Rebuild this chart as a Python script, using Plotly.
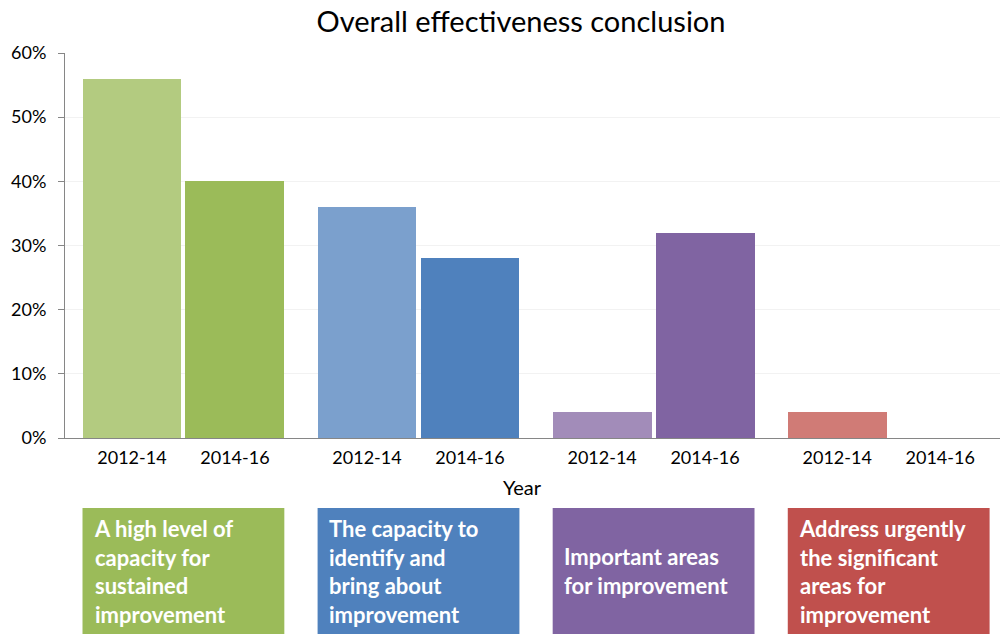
import plotly.graph_objects as go

# ---- data ----
years = ["2012-14", "2014-16"]
group_labels = [
    "A high level of<br>capacity for<br>sustained<br>improvement",
    "The capacity to<br>identify and<br>bring about<br>improvement",
    "Important areas<br>for improvement",
    "Address urgently<br>the significant<br>areas for<br>improvement",
]
values_2012_14 = [56, 36, 4, 4]
values_2014_16 = [40, 28, 32, 0]

# ---- styles ----
light_colors = ["#b3cb80", "#7ba0cd", "#a28cb9", "#d07b76"]
dark_colors = ["#9bbb59", "#4f81bd", "#8064a2", "#c0504d"]
box_colors = ["#9bbb59", "#4f81bd", "#8064a2", "#c0504d"]
FONT = "Lato"
GROUP_PITCH = 2.283
BAR_W = 0.96

n = len(group_labels)
series = [values_2012_14, values_2014_16]
series_colors = [light_colors, dark_colors]

fig = go.Figure()
tickvals, ticktext = [], []
for j, (yr, vals, cols) in enumerate(zip(years, series, series_colors)):
    xs = [g * GROUP_PITCH + j for g in range(n)]
    tickvals += xs
    ticktext += [yr] * n
    fig.add_trace(go.Bar(x=xs, y=vals, width=BAR_W, name=yr,
                         marker=dict(color=cols, line=dict(width=0)),
                         showlegend=False))

shapes, annotations = [], []
for g in range(n):
    x0 = g * GROUP_PITCH - BAR_W / 2
    x1 = g * GROUP_PITCH + 1 + BAR_W / 2
    shapes.append(dict(type="rect", xref="x", yref="paper", x0=x0, x1=x1,
                       y0=-0.509, y1=-0.182, fillcolor=box_colors[g],
                       line=dict(width=0), layer="above"))
    annotations.append(dict(xref="x", yref="paper", x=x0, y=-0.3455,
                            xanchor="left", yanchor="middle", xshift=9,
                            text="<b>" + group_labels[g] + "</b>", align="left",
                            showarrow=False,
                            font=dict(family=FONT, size=22, color="white")))

annotations.append(dict(xref="paper", yref="paper", x=0.489, y=-0.128,
                        xanchor="center", yanchor="middle", text="Year",
                        showarrow=False, font=dict(family=FONT, size=20, color="black")))

fig.update_layout(
    width=1000, height=635,
    margin=dict(l=65, r=0, t=53, b=197),
    paper_bgcolor="white", plot_bgcolor="white",
    title=dict(text="Overall effectiveness conclusion", x=0.521, xanchor="center",
               y=0.965, yanchor="middle",
               font=dict(family=FONT, size=29, color="black")),
    font=dict(family=FONT, color="black"),
    bargap=0,
    shapes=shapes,
    annotations=annotations,
)
fig.update_xaxes(range=[-0.65, 8.43], tickvals=tickvals, ticktext=ticktext,
                 showline=True, linecolor="#868686", linewidth=1,
                 showgrid=False, zeroline=False, ticks="",
                 ticklabelstandoff=3,
                 tickfont=dict(family=FONT, size=18, color="black"))
fig.update_yaxes(range=[0, 60], dtick=10, ticksuffix="%",
                 showline=True, linecolor="#868686", linewidth=1,
                 ticks="outside", ticklen=6, tickcolor="#868686",
                 showgrid=True, gridcolor="#f2f2f2", zeroline=False,
                 ticklabelstandoff=8,
                 tickfont=dict(family=FONT, size=18, color="black"))

fig.write_html("out.html")
